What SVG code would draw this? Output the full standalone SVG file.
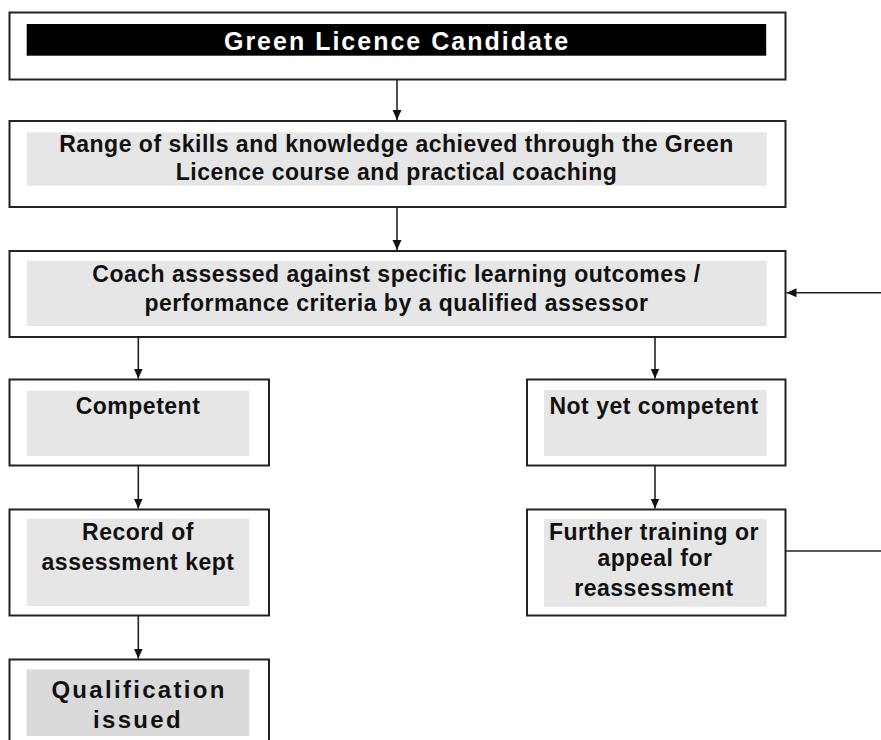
<svg xmlns="http://www.w3.org/2000/svg" width="881" height="740" viewBox="0 0 881 740">
<style>
.box{fill:#fff;stroke:#222;stroke-width:2}
.pad{fill:#e6e6e6}
.t{font-family:"Liberation Sans",Arial,sans-serif;font-weight:bold;font-size:23px;letter-spacing:0.5px;fill:#111;text-anchor:middle}
.big{font-size:24px;letter-spacing:2.3px}
.title{font-size:25px;letter-spacing:2px;fill:#fff}
.c{stroke:#222;stroke-width:1.6;fill:none}
</style>
<defs>
<marker id="ah" markerUnits="userSpaceOnUse" markerWidth="11" markerHeight="11" refX="10" refY="5" orient="auto">
<path d="M0,0.5 L10,5 L0,9.5 z" fill="#111"/>
</marker>
</defs>
<rect width="881" height="740" fill="#fff"/>
<g id="n1">
<rect class="box" x="9.5" y="12.5" width="776" height="67"/>
<rect x="26.7" y="24" width="739.5" height="31.7" fill="#000"/>
<text class="t title" x="397" y="49.5">Green Licence Candidate</text>
</g>
<g id="n2">
<rect class="box" x="9.5" y="121" width="776" height="86"/>
<rect class="pad" x="26.7" y="132.3" width="740" height="53.4"/>
<text class="t" x="396.5" y="151.7">Range of skills and knowledge achieved through the Green</text>
<text class="t" x="396.5" y="180">Licence course and practical coaching</text>
</g>
<g id="n3">
<rect class="box" x="9.5" y="251" width="776" height="86"/>
<rect class="pad" x="26.7" y="260.7" width="740" height="65.3"/>
<text class="t" x="396.5" y="282">Coach assessed against specific learning outcomes /</text>
<text class="t" x="396.5" y="311">performance criteria by a qualified assessor</text>
</g>
<g id="n4">
<rect class="box" x="9.5" y="379.5" width="259.5" height="86"/>
<rect class="pad" x="26.7" y="390.7" width="222.6" height="65.3"/>
<text class="t" x="138" y="414">Competent</text>
</g>
<g id="n5">
<rect class="box" x="527" y="379.5" width="258.5" height="86"/>
<rect class="pad" x="544" y="390" width="222.7" height="66"/>
<text class="t" x="654" y="413.5">Not yet competent</text>
</g>
<g id="n6">
<rect class="box" x="9.5" y="509.5" width="259.5" height="106"/>
<rect class="pad" x="26.7" y="518.7" width="222.6" height="87.3"/>
<text class="t" x="138" y="540">Record of</text>
<text class="t" x="138" y="570">assessment kept</text>
</g>
<g id="n7">
<rect class="box" x="527" y="509.5" width="258.5" height="106"/>
<rect class="pad" x="544" y="519" width="222.7" height="87.7"/>
<text class="t" x="654" y="540">Further training or</text>
<text class="t" x="655" y="566">appeal for</text>
<text class="t" x="654" y="595.5">reassessment</text>
</g>
<g id="n8">
<rect class="box" x="9.5" y="659.5" width="259.5" height="100"/>
<rect x="26.7" y="669.3" width="222.6" height="66.7" fill="#dadada"/>
<text class="t big" x="139" y="697.5">Qualification</text>
<text class="t big" x="138" y="727.5">issued</text>
</g>
<g id="connectors">
<line class="c" x1="397" y1="79.5" x2="397" y2="120" marker-end="url(#ah)"/>
<line class="c" x1="397" y1="207" x2="397" y2="250" marker-end="url(#ah)"/>
<line class="c" x1="138.3" y1="337" x2="138.3" y2="378.5" marker-end="url(#ah)"/>
<line class="c" x1="655" y1="337" x2="655" y2="378.5" marker-end="url(#ah)"/>
<line class="c" x1="138.3" y1="465.5" x2="138.3" y2="508.5" marker-end="url(#ah)"/>
<line class="c" x1="655" y1="465.5" x2="655" y2="508.5" marker-end="url(#ah)"/>
<line class="c" x1="138.3" y1="615.5" x2="138.3" y2="658.5" marker-end="url(#ah)"/>
<line class="c" x1="881" y1="292.7" x2="786.5" y2="292.7" marker-end="url(#ah)"/>
<line class="c" x1="785.5" y1="551" x2="881" y2="551"/>
</g>
</svg>
